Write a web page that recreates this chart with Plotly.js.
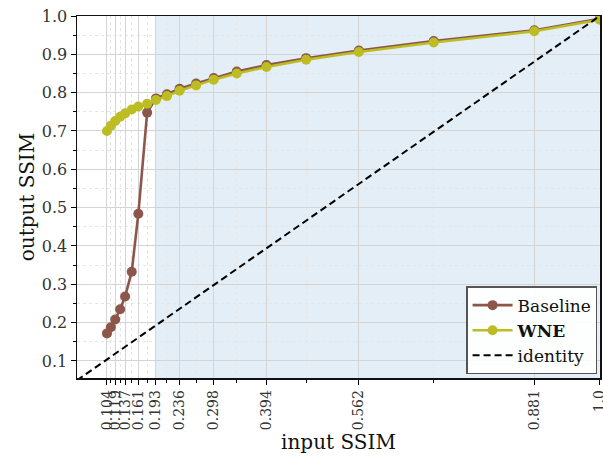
<!DOCTYPE html>
<html>
<head>
<meta charset="utf-8">
<script src="https://cdn.plot.ly/plotly-3.0.1.min.js"></script>
<style>html,body{margin:0;padding:0;background:#fff;}#chart{width:603px;height:462px;}</style>
</head>
<body>
<div id="chart"></div>
<script>
// ---- data ----
const inputSSIM = [0.104, 0.111, 0.119, 0.128, 0.137, 0.149, 0.161, 0.177, 0.193, 0.213,
                   0.236, 0.266, 0.298, 0.340, 0.394, 0.466, 0.562, 0.698, 0.881, 1.0];
const baselineSSIM = [0.172, 0.188, 0.208, 0.235, 0.268, 0.333, 0.484, 0.748, 0.785, 0.796,
                      0.810, 0.824, 0.838, 0.855, 0.872, 0.890, 0.910, 0.935, 0.963, 0.993];
const wneSSIM = [0.700, 0.714, 0.726, 0.737, 0.746, 0.756, 0.764, 0.771, 0.781, 0.791,
                 0.805, 0.819, 0.834, 0.850, 0.867, 0.886, 0.906, 0.931, 0.960, 0.990];
const identityX = [0, 1];
const identityY = [0, 1];
const majorTickVals = [0.104, 0.119, 0.137, 0.161, 0.193, 0.236, 0.298, 0.394, 0.562, 0.881, 1.0];
const majorTickText = ['0.104', '0.119', '0.137', '0.161', '0.193', '0.236', '0.298', '0.394', '0.562', '0.881', '1.0'];
const minorTickVals = [0.111, 0.128, 0.149, 0.177, 0.213, 0.266, 0.340, 0.466, 0.698];
const shadeStart = 0.193;
const shadeEnd = 1.0;

const serif = 'DejaVu Serif, serif';

const traces = [
  {
    x: inputSSIM, y: baselineSSIM, name: 'Baseline', type: 'scatter', mode: 'lines+markers',
    line: {color: '#8c564b', width: 2.6},
    marker: {color: '#8c564b', size: 10}
  },
  {
    x: inputSSIM, y: wneSSIM, name: '<b>WNE</b>', type: 'scatter', mode: 'lines+markers',
    line: {color: '#bcbd22', width: 2.6},
    marker: {color: '#bcbd22', size: 10}
  },
  {
    x: identityX, y: identityY, name: 'identity', type: 'scatter', mode: 'lines',
    line: {color: '#000', width: 2, dash: '7px,4px'}
  }
];

const layout = {
  width: 603, height: 462,
  margin: {l: 77, r: 3, t: 16, b: 84},
  paper_bgcolor: '#fff', plot_bgcolor: '#fff',
  font: {family: serif, color: '#333', size: 13},
  showlegend: true,
  xaxis: {
    range: [0.0495, 1.0004],
    tickmode: 'array', tickvals: majorTickVals, ticktext: majorTickText,
    tickangle: -90, tickfont: {family: serif, size: 14, color: '#333'},
    ticklabeloverflow: 'allow',
    ticks: 'outside', ticklen: 5, tickwidth: 1, tickcolor: '#000',
    showline: true, linecolor: '#111', linewidth: 1.5, mirror: true,
    showgrid: true, gridcolor: '#d4d4d4', gridwidth: 1,
    zeroline: false,
    minor: {tickvals: minorTickVals, ticks: 'outside', ticklen: 3, tickcolor: '#000',
            showgrid: true, gridcolor: '#e6e6e6', gridwidth: 1, griddash: 'dot'},
    title: {text: 'input SSIM', font: {family: serif, size: 20, color: '#111'}, standoff: 4}
  },
  yaxis: {
    range: [0.0556, 1.0],
    tickmode: 'linear', tick0: 0, dtick: 0.1, tickformat: '.1f',
    tickfont: {family: serif, size: 16, color: '#333'},
    ticks: 'outside', ticklen: 5, tickwidth: 1, tickcolor: '#000',
    showline: true, linecolor: '#111', linewidth: 1.5, mirror: true,
    showgrid: true, gridcolor: '#d4d4d4', gridwidth: 1,
    zeroline: false,
    minor: {tick0: 0, dtick: 0.05, ticks: 'outside', ticklen: 3, tickcolor: '#000',
            showgrid: true, gridcolor: '#e6e6e6', gridwidth: 1, griddash: 'dot'},
    title: {text: 'output SSIM', font: {family: serif, size: 20, color: '#111'}, standoff: 2}
  },
  shapes: [{
    type: 'rect', xref: 'x', yref: 'paper', x0: shadeStart, x1: shadeEnd, y0: 0, y1: 1,
    fillcolor: 'rgba(31,119,180,0.12)', line: {width: 0}, layer: 'below'
  }],
  legend: {
    x: 0.995, xanchor: 'right', y: 0.01, yanchor: 'bottom',
    bgcolor: 'rgba(255,255,255,0.9)', bordercolor: '#555', borderwidth: 1.2,
    font: {family: serif, size: 17, color: '#111'},
    tracegroupgap: 0, itemwidth: 40
  }
};

Plotly.newPlot('chart', traces, layout, {displayModeBar: false, staticPlot: true});
</script>
</body>
</html>
